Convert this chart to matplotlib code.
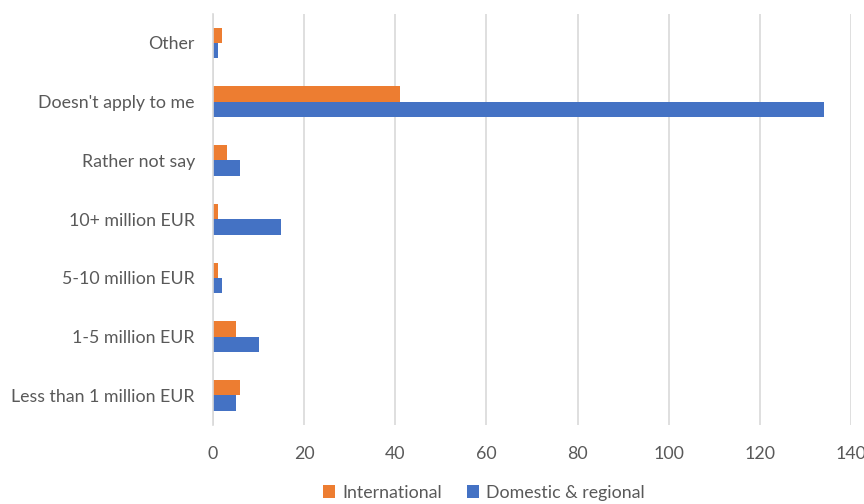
import numpy as np
import matplotlib.pyplot as plt

# Kategorien von unten nach oben
kategorien = [
    "Less than 1 million EUR",
    "1-5 million EUR",
    "5-10 million EUR",
    "10+ million EUR",
    "Rather not say",
    "Doesn't apply to me",
    "Other",
]
international = [6, 5, 1, 1, 3, 41, 2]
domestic = [5, 10, 2, 15, 6, 134, 1]
x_ticks = [0, 20, 40, 60, 80, 100, 120, 140]

plt.rcParams['font.family'] = ['Lato', 'DejaVu Sans']

fig = plt.figure(figsize=(8.64, 5.04), dpi=100)
ax = fig.add_axes([0.2465, 0.157, 0.985 - 0.2465, 0.973 - 0.157])

y = np.arange(len(kategorien))
h = 0.26
ax.barh(y + h / 2, international, height=h, color="#ED7D31", label="International")
ax.barh(y - h / 2, domestic, height=h, color="#4472C4", label="Domestic & regional")

ax.set_xlim(0, 140)
ax.set_ylim(-0.5, len(kategorien) - 0.5)
ax.set_xticks(x_ticks)
ax.set_yticks(y)
ax.set_yticklabels(kategorien)
ax.grid(axis="x", color="#D9D9D9", linewidth=1.2)
ax.set_axisbelow(True)

for s in ["top", "right", "bottom"]:
    ax.spines[s].set_visible(False)
ax.spines["left"].set_color("#D9D9D9")
ax.spines["left"].set_linewidth(1.2)
ax.tick_params(axis="both", length=0, labelsize=12.8, labelcolor="#595959")
ax.tick_params(axis="x", pad=15)
ax.tick_params(axis="y", pad=13)

fig.legend(loc="lower center", bbox_to_anchor=(0.56, -0.025), ncol=2, frameon=False,
           fontsize=12.8, labelcolor="#595959", handlelength=0.7, handleheight=0.7,
           handletextpad=0.4, columnspacing=1.4)

plt.savefig("out.png", dpi=100)
